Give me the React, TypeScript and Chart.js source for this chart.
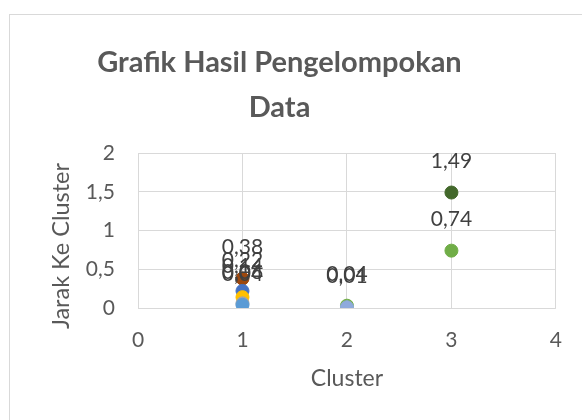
import React, { useEffect, useRef } from "react";
import { Chart, registerables } from "chart.js";

Chart.register(...registerables);

// Data
const clusters = [1, 1, 1, 1, 1, 2, 2, 3, 3];
const distances = [0.38, 0.22, 0.14, 0.06, 0.04, 0.03, 0.01, 1.49, 0.74];
const pointColors = [
  "#9E480E",
  "#4472C4",
  "#FFC000",
  "#A5A5A5",
  "#5B9BD5",
  "#70AD47",
  "#8FAADC",
  "#43682B",
  "#70AD47",
];
const labelTexts = ["0,38", "0,22", "0,14", "0,06", "0,04", "0,04", "0,01", "1,49", "0,74"];
const titleLines = ["Grafik Hasil Pengelompokan", "Data"];
const xTitle = "Cluster";
const yTitle = "Jarak Ke Cluster";

const FONT = "Lato, 'Open Sans', sans-serif";
const TEXT = "#595959";
const GRID = "#d9d9d9";

const fmt = (v: number) => String(v).replace(".", ",");

const labelsPlugin = {
  id: "pointLabels",
  afterDatasetsDraw(chart: any) {
    const ctx = chart.ctx;
    ctx.save();
    ctx.font = `21px ${FONT}`;
    ctx.fillStyle = "#404040";
    ctx.textAlign = "center";
    ctx.textBaseline = "middle";
    chart.data.datasets.forEach((ds: any, i: number) => {
      const meta = chart.getDatasetMeta(i);
      meta.data.forEach((el: any) => {
        ctx.fillText(labelTexts[i], el.x, el.y - 31);
      });
    });
    ctx.restore();
  },
};

const yTitlePlugin = {
  id: "yTitleCustom",
  afterDraw(chart: any) {
    const ctx = chart.ctx;
    ctx.save();
    ctx.font = `23.5px ${FONT}`;
    ctx.fillStyle = TEXT;
    ctx.textAlign = "center";
    ctx.textBaseline = "middle";
    ctx.translate(61, 246);
    ctx.rotate(-Math.PI / 2);
    ctx.fillText(yTitle, 0, 0);
    ctx.restore();
  },
};

export default function App() {
  const ref = useRef<HTMLCanvasElement | null>(null);

  useEffect(() => {
    if (!ref.current) return;
    const datasets = distances.map((d, i) => ({
      label: `S${i + 1}`,
      data: [{ x: clusters[i], y: d }],
      backgroundColor: pointColors[i],
      borderColor: pointColors[i],
      borderWidth: 1,
      pointRadius: 6.5,
      order: distances.length - i,
    }));
    const chart = new Chart(ref.current, {
      type: "scatter",
      data: { datasets },
      options: {
        animation: false,
        responsive: false,
        events: [],
        layout: { padding: { top: 0, left: 0, right: 23, bottom: 24 } },
        plugins: {
          legend: { display: false },
          tooltip: { enabled: false },
          title: {
            display: true,
            text: titleLines,
            color: TEXT,
            font: { family: FONT, size: 29, weight: "bold", lineHeight: 45 / 29 },
            padding: { top: 40.5, bottom: 22.5 },
          },
        },
        scales: {
          x: {
            type: "linear",
            min: 0,
            max: 4,
            ticks: {
              stepSize: 1,
              color: TEXT,
              padding: 20,
              font: { family: FONT, size: 21 },
            },
            grid: { color: GRID, drawTicks: false },
            border: { display: false },
            title: {
              display: true,
              text: xTitle,
              color: TEXT,
              font: { family: FONT, size: 23 },
              padding: { top: 0, bottom: 4 },
            },
            afterFit: (s: any) => {
              s.height = 88;
            },
          },
          y: {
            min: 0,
            max: 2,
            ticks: {
              stepSize: 0.5,
              color: TEXT,
              padding: 23,
              font: { family: FONT, size: 21 },
              callback: (v: any) => fmt(Number(v)),
            },
            grid: { color: GRID, drawTicks: false },
            border: { display: true, color: GRID },
            afterFit: (s: any) => {
              s.width = 138;
            },
          },
        },
      },
      plugins: [labelsPlugin, yTitlePlugin],
    });
    return () => chart.destroy();
  }, []);

  return (
    <div
      style={{
        position: "absolute",
        left: 0,
        top: 0,
        width: 582,
        height: 420,
        overflow: "hidden",
        background: "#ffffff",
      }}
    >
      <div
        style={{
          position: "absolute",
          left: 9,
          top: 14,
          width: 700,
          height: 500,
          border: `1px solid ${GRID}`,
          boxSizing: "border-box",
        }}
      />
      <canvas
        ref={ref}
        width={582}
        height={420}
        style={{ position: "absolute", left: 0, top: 0, width: 582, height: 420 }}
      />
    </div>
  );
}
